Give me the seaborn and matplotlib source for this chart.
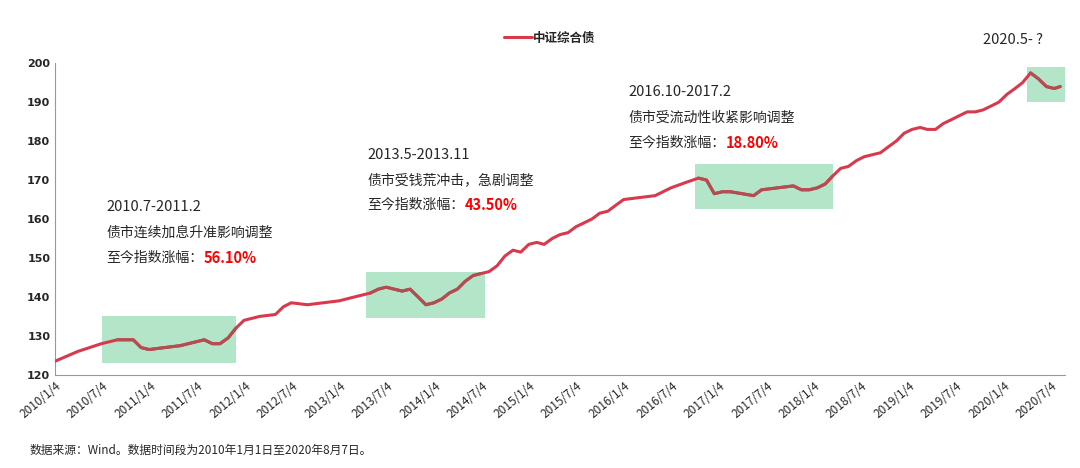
import matplotlib
matplotlib.use("Agg")
import matplotlib.pyplot as plt
import seaborn as sns
import pandas as pd

dates = ["2010-01-04","2010-04-01","2010-07-01","2010-09-01","2010-11-01","2010-12-01","2011-01-01","2011-03-01","2011-05-01","2011-07-01","2011-08-01","2011-09-01","2011-10-01","2011-11-01","2011-12-01",
"2012-01-01","2012-03-01","2012-05-01","2012-06-01","2012-07-01","2012-09-01","2012-11-01","2013-01-01","2013-03-01","2013-05-01","2013-06-01","2013-07-01","2013-08-01","2013-09-01","2013-10-01","2013-11-01","2013-12-01",
"2014-01-01","2014-02-01","2014-03-01","2014-04-01","2014-05-01","2014-06-01","2014-07-01","2014-08-01","2014-09-01","2014-10-01","2014-11-01","2014-12-01",
"2015-01-01","2015-02-01","2015-03-01","2015-04-01","2015-05-01","2015-06-01","2015-07-01","2015-08-01","2015-09-01","2015-10-01","2015-11-01","2015-12-01",
"2016-01-01","2016-03-01","2016-05-01","2016-07-01","2016-09-01","2016-10-15","2016-11-15","2016-12-15","2017-01-15","2017-02-15","2017-04-01","2017-05-15","2017-06-15","2017-08-15","2017-10-15","2017-11-15","2017-12-15",
"2018-01-15","2018-02-15","2018-03-15","2018-04-15","2018-05-15","2018-06-15","2018-07-15","2018-08-15","2018-09-15","2018-10-15","2018-11-15","2018-12-15",
"2019-01-15","2019-02-15","2019-03-15","2019-04-15","2019-05-15","2019-06-15","2019-07-15","2019-08-15","2019-09-15","2019-10-15","2019-11-15","2019-12-15",
"2020-01-15","2020-02-15","2020-03-15","2020-04-15","2020-05-15","2020-06-15","2020-07-15","2020-08-07"]
values = [123.5,126,128,129,129,127,126.5,127,127.5,128.5,129,128,128,129.5,132,
134,135,135.5,137.5,138.5,138,138.5,139,140,141,142,142.5,142,141.5,142,140,138,
138.5,139.5,141,142,144,145.5,146,146.5,148,150.5,152,151.5,
153.5,154,153.5,155,156,156.5,158,159,160,161.5,162,163.5,
165,165.5,166,168,169.5,170.5,170,166.5,167,167,166.5,166,167.5,168,168.5,167.5,167.5,
168,169,171,173,173.5,175,176,176.5,177,178.5,180,182,
183,183.5,183,183,184.5,185.5,186.5,187.5,187.5,188,189,190,
192,193.5,195,197.5,196,194,193.5,194]
series_name = "中证综合债"
boxes = [("2010-07-04","2011-12-01",123,135),("2013-04-15","2014-07-15",134.5,146.5),
         ("2016-10-01","2018-03-15",162.5,174),("2020-04-01","2020-08-25",190,199)]
tick_dates = [f"{y}-{m:02d}-04" for y in range(2010, 2021) for m in (1, 7)]
tick_labels = [f"{y}/{m}/4" for y in range(2010, 2021) for m in (1, 7)]

sns.set_style("white")
plt.rcParams['font.family'] = ['Noto Sans CJK SC', 'DejaVu Sans']
df = pd.DataFrame({"date": pd.to_datetime(dates), "value": values})

fig = plt.figure(figsize=(10.8, 4.68), dpi=100)
ax = fig.add_axes([0.051, 0.199, 0.935, 0.666])
for x0, x1, y0, y1 in boxes:
    ax.fill_between([pd.Timestamp(x0), pd.Timestamp(x1)], y0, y1, color="#B3E6C8", zorder=1, lw=0)
sns.lineplot(data=df, x="date", y="value", ax=ax, color="#D8394C", lw=2.2, label=series_name, zorder=3)
for x0, x1, y0, y1 in boxes:
    sub = df[(df.date >= pd.Timestamp(x0)) & (df.date <= pd.Timestamp(x1))]
    ax.plot(sub.date, sub.value, color="#B24E52", lw=2.2, zorder=4)

ax.set_xlim(pd.Timestamp("2010-01-04"), pd.Timestamp("2020-08-25"))
ax.set_ylim(120, 200)
ax.set_yticks(range(120, 201, 10))
ax.set_yticklabels([str(v) for v in range(120, 201, 10)], fontsize=8, fontweight="bold", family="DejaVu Sans")
ax.set_xticks(pd.to_datetime(tick_dates))
ax.set_xticklabels(tick_labels, rotation=40, ha="right", rotation_mode="anchor", fontsize=8.5)
ax.tick_params(axis="x", length=4, color="#999999", direction="in")
ax.tick_params(axis="y", length=0)
ax.set_xlabel(""); ax.set_ylabel("")
for s in ["top", "right"]:
    ax.spines[s].set_visible(False)
for s in ["left", "bottom"]:
    ax.spines[s].set_color("#999999")
ax.legend(loc="center", bbox_to_anchor=(0.49, 1.08), frameon=False, handlelength=2.2,
          handletextpad=0.1, prop={"family": "Noto Sans CJK SC", "weight": "bold", "size": 9})

def note(x, y, title, body, pct):
    ax.text(pd.Timestamp(x), y, title, fontsize=10.5, va="center")
    ax.text(pd.Timestamp(x), y - 6.5, body, fontsize=10, va="center")
    t = ax.text(pd.Timestamp(x), y - 13, "至今指数涨幅：", fontsize=10, va="center")
    ax.annotate(pct, xycoords=t, xy=(1, 0.5), va="center", fontsize=10.5, color="#FF0000", fontweight="bold")

note("2010-07-20", 163, "2010.7-2011.2", "债市连续加息升准影响调整", "56.10%")
note("2013-04-20", 176.5, "2013.5-2013.11", "债市受钱荒冲击，急剧调整", "43.50%")
note("2016-01-20", 192.5, "2016.10-2017.2", "债市受流动性收紧影响调整", "18.80%")
ax.text(pd.Timestamp("2019-10-15"), 206, "2020.5- ?", fontsize=10.5, va="center", clip_on=False)

fig.text(0.027, 0.03, "数据来源：Wind。数据时间段为2010年1月1日至2020年8月7日。", fontsize=8.5)
fig.savefig("out.png", dpi=100, facecolor="white")
